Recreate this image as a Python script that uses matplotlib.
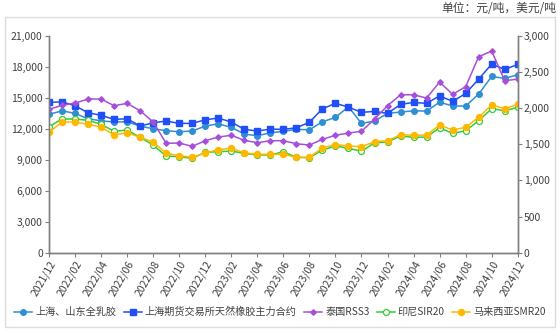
import numpy as np
import matplotlib.pyplot as plt
from matplotlib.patches import Rectangle

plt.rcParams['font.family'] = ['Noto Sans CJK SC', 'DejaVu Sans']

months = ['2021/12', '2022/01', '2022/02', '2022/03', '2022/04', '2022/05', '2022/06',
          '2022/07', '2022/08', '2022/09', '2022/10', '2022/11', '2022/12',
          '2023/01', '2023/02', '2023/03', '2023/04', '2023/05', '2023/06',
          '2023/07', '2023/08', '2023/09', '2023/10', '2023/11', '2023/12',
          '2024/01', '2024/02', '2024/03', '2024/04', '2024/05', '2024/06',
          '2024/07', '2024/08', '2024/09', '2024/10', '2024/11', '2024/12']

# left axis, yuan/ton
sh_sd = [13390, 13740, 13490, 12970, 12770, 12650, 12680, 12260, 12000, 11810,
         11710, 11780, 12260, 12480, 12140, 11490, 11320, 11610, 11750, 11940,
         11900, 12680, 13100, 14130, 12520, 12750, 13490, 13620, 13740, 13710,
         14580, 14200, 14200, 15360, 17070, 16880, 17230]
shfe = [14550, 14610, 14230, 13550, 13300, 12910, 12970, 12260, 12580, 12750,
        12520, 12520, 12870, 13040, 12650, 11940, 11780, 11970, 11940, 12100,
        12620, 13940, 14460, 14100, 13590, 13680, 13490, 14360, 14550, 14460,
        15190, 14650, 15420, 16810, 18260, 17750, 18230]
# right axis, USD/ton
rss3 = [1983, 2039, 2070, 2126, 2126, 2033, 2066, 1964, 1808, 1513,
        1517, 1471, 1549, 1600, 1624, 1554, 1521, 1549, 1549, 1507,
        1489, 1568, 1624, 1655, 1679, 1849, 2033, 2185, 2185, 2139,
        2361, 2191, 2296, 2711, 2790, 2379, 2402]
sir20 = [1743, 1849, 1849, 1831, 1776, 1679, 1697, 1596, 1489, 1337,
         1328, 1305, 1388, 1397, 1406, 1374, 1351, 1351, 1397, 1319,
         1314, 1420, 1476, 1444, 1402, 1521, 1531, 1614, 1596, 1600,
         1729, 1651, 1687, 1826, 1992, 1964, 2011]
smr20 = [1665, 1808, 1808, 1776, 1738, 1628, 1660, 1596, 1531, 1374,
         1342, 1319, 1379, 1425, 1444, 1383, 1361, 1361, 1361, 1319,
         1319, 1452, 1494, 1476, 1466, 1535, 1549, 1632, 1624, 1628,
         1766, 1697, 1734, 1873, 2043, 1992, 2052]

fig = plt.figure(figsize=(5.6, 3.32), dpi=100)
fig.patches.append(Rectangle((5 / 560, 5 / 332), 550 / 560, 310 / 332,
                             transform=fig.transFigure, fill=False,
                             edgecolor='#dcdcdc', linewidth=1))
fig.text(0.993, 0.975, '单位：元/吨，美元/吨', ha='right', va='center',
         fontsize=8.5, color='#404040')

ax = fig.add_axes([0.0875, 0.239, 0.837, 0.653])
ax2 = ax.twinx()
x = np.arange(len(months))

l1, = ax.plot(x, sh_sd, color='#2f8fd2', lw=1.1, marker='o', ms=4, label='上海、山东全乳胶')
l2, = ax.plot(x, shfe, color='#1f4ff5', lw=1.1, marker='s', ms=4.3, label='上海期货交易所天然橡胶主力合约')
l3, = ax2.plot(x, rss3, color='#a64fd8', lw=1.1, marker='D', ms=2.8, label='泰国RSS3')
l4, = ax2.plot(x, sir20, color='#33cc33', lw=1.1, marker='o', ms=4.3, mfc='white',
               mec='#33cc33', mew=0.9, label='印尼SIR20')
l5, = ax2.plot(x, smr20, color='#ffb800', lw=1.1, marker='o', ms=4.3, label='马来西亚SMR20')

ax.set_xlim(0, len(months) - 1)
ax.set_ylim(0, 21000)
ax2.set_ylim(0, 3000)
ax.set_yticks(np.arange(0, 21001, 3000))
ax2.set_yticks(np.arange(0, 3001, 500))
ax.yaxis.set_major_formatter(plt.FuncFormatter(lambda v, p: f'{int(v):,}'))
ax2.yaxis.set_major_formatter(plt.FuncFormatter(lambda v, p: f'{int(v):,}'))
ax.set_xticks(x[::2])
ax.set_xticklabels(months[::2], rotation=60, ha='right', rotation_mode='anchor')

for a in (ax, ax2):
    a.spines['top'].set_visible(False)
    for s in ('left', 'right', 'bottom'):
        a.spines[s].set_color('#7f7f7f')
        a.spines[s].set_linewidth(1)
    a.tick_params(labelsize=7.5, colors='#404040', length=3, width=0.8, pad=1.5)
    a.tick_params(axis='both', color='#7f7f7f')

fig.legend(handles=[l1, l2, l3, l4, l5], loc='center', bbox_to_anchor=(0.5, 0.06),
           ncol=5, frameon=False, fontsize=7.3, handlelength=1.8, handletextpad=0.3,
           columnspacing=0.7, labelcolor='#404040', borderpad=0.2)

fig.savefig('out.png', dpi=100)
